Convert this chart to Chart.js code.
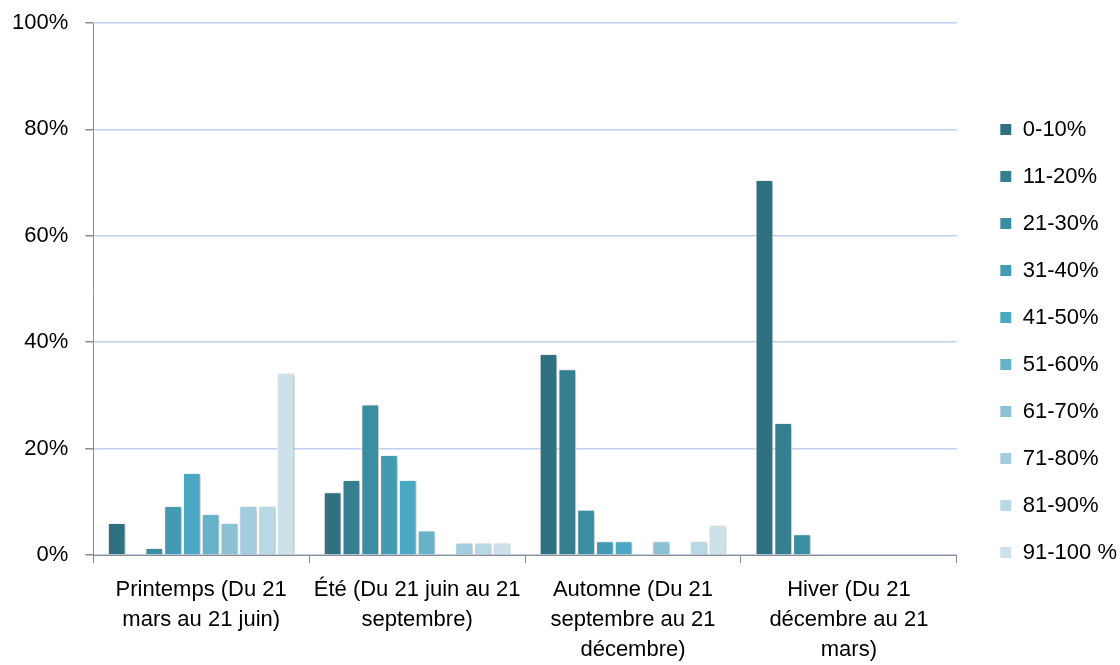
<!DOCTYPE html>
<html>
<head>
<meta charset="utf-8">
<script src="https://cdn.jsdelivr.net/npm/chart.js@4.4.1/dist/chart.umd.min.js"></script>
<style>
  html, body { margin: 0; padding: 0; background: #fff; }
  #wrap { width: 1120px; height: 665px; }
</style>
</head>
<body>
<div id="wrap"><canvas id="seasonChart"></canvas></div>
<script>
// Seasons (x categories)
const seasons = [
    ["Printemps (Du 21", "mars au 21 juin)"],
    ["Été (Du 21 juin au 21", "septembre)"],
    ["Automne (Du 21", "septembre au 21", "décembre)"],
    ["Hiver (Du 21", "décembre au 21", "mars)"]
];

// Classes (one series each)
const classes = ["0-10%", "11-20%", "21-30%", "31-40%", "41-50%",
                 "51-60%", "61-70%", "71-80%", "81-90%", "91-100 %"];

// Values per class, in season order (percent)
const v0_10   = [6.0, 11.8, 37.8, 70.5];
const v11_20  = [0,   14.1, 34.9, 24.8];
const v21_30  = [1.3, 28.3, 8.5,  3.9];
const v31_40  = [9.2, 18.8, 2.6,  0];
const v41_50  = [15.4, 14.1, 2.6, 0];
const v51_60  = [7.7, 4.6,  0,    0];
const v61_70  = [6.0, 0,    2.6,  0];
const v71_80  = [9.2, 2.3,  0,    0];
const v81_90  = [9.2, 2.3,  2.6,  0];
const v91_100 = [34.2, 2.3, 5.6,  0];

const yTicks = [0, 20, 40, 60, 80, 100];

const seriesValues = [v0_10, v11_20, v21_30, v31_40, v41_50,
                      v51_60, v61_70, v71_80, v81_90, v91_100];
const seriesColors = ["#2f7081", "#367f91", "#3b8da2", "#429bb3", "#4aa8c2",
                      "#66b2c9", "#8bc1d3", "#a3cddf", "#b8d8e4", "#cde1eb"];

const fontFamily = "'Liberation Sans', Arial, sans-serif";

// soft shadow behind the bars
const barShadow = {
    id: 'barShadow',
    beforeDatasetsDraw(chart) {
        const ctx = chart.ctx;
        ctx.save();
        ctx.shadowColor = 'rgba(0,0,0,0.28)';
        ctx.shadowBlur = 4;
        ctx.shadowOffsetX = 2;
        ctx.shadowOffsetY = 1;
    },
    afterDatasetsDraw(chart) {
        chart.ctx.restore();
    }
};

// give the legend a wider gap on its left side, and nudge it up a bit
const legendGap = {
    id: 'legendGap',
    beforeUpdate(chart) {
        const legend = chart.legend;
        if (legend && !legend._gapPatched) {
            const fit = legend.fit;
            legend.fit = function() {
                fit.call(this);
                this.width += 11;
            };
            legend._gapPatched = true;
        }
    },
    afterLayout(chart) {
        const legend = chart.legend;
        legend.left += 18;
        legend.right += 18;
        legend.top -= 3;
        legend.bottom -= 3;
    }
};

const datasets = classes.map((name, i) => ({
    label: name,
    data: seriesValues[i],
    backgroundColor: seriesColors[i],
    borderColor: '#ffffff',
    borderWidth: 1,
    categoryPercentage: 0.87,
    barPercentage: 0.94
}));

const ctx = document.getElementById('seasonChart').getContext('2d');
const myChart = new Chart(ctx, {
    type: 'bar',
    data: { labels: seasons, datasets: datasets },
    plugins: [barShadow, legendGap],
    options: {
        responsive: true,
        maintainAspectRatio: false,
        animation: false,
        layout: { padding: { top: 23, right: 0, left: 0, bottom: 0 } },
        plugins: {
            tooltip: { enabled: false },
            legend: {
                position: 'right',
                align: 'center',
                labels: {
                    color: '#000',
                    font: { family: fontFamily, size: 22 },
                    boxWidth: 12,
                    boxHeight: 12,
                    padding: 25
                }
            }
        },
        scales: {
            x: {
                // the third label line runs off the bottom, as in the original
                afterFit: axis => { axis.height = 110; },
                grid: {
                    offset: true,
                    drawOnChartArea: false,
                    drawTicks: true,
                    tickLength: 8,
                    tickColor: '#8c8c8c'
                },
                border: { color: '#8c8c8c', width: 1 },
                ticks: {
                    color: '#000',
                    font: { family: fontFamily, size: 22, lineHeight: 1.36 },
                    maxRotation: 0,
                    autoSkip: false,
                    padding: 12
                }
            },
            y: {
                min: 0,
                max: 100,
                afterBuildTicks: axis => { axis.ticks = yTicks.map(v => ({ value: v })); },
                afterFit: axis => {
                    axis.width -= 5;
                    axis.paddingTop = 0;
                },
                grid: {
                    color: '#bfd0ee',
                    lineWidth: 1.5,
                    drawTicks: true,
                    tickLength: 8,
                    tickColor: '#8c8c8c'
                },
                border: { color: '#8c8c8c', width: 1 },
                ticks: {
                    color: '#000',
                    font: { family: fontFamily, size: 22 },
                    padding: 17,
                    callback: v => v + '%'
                }
            }
        }
    }
});
</script>
</body>
</html>
